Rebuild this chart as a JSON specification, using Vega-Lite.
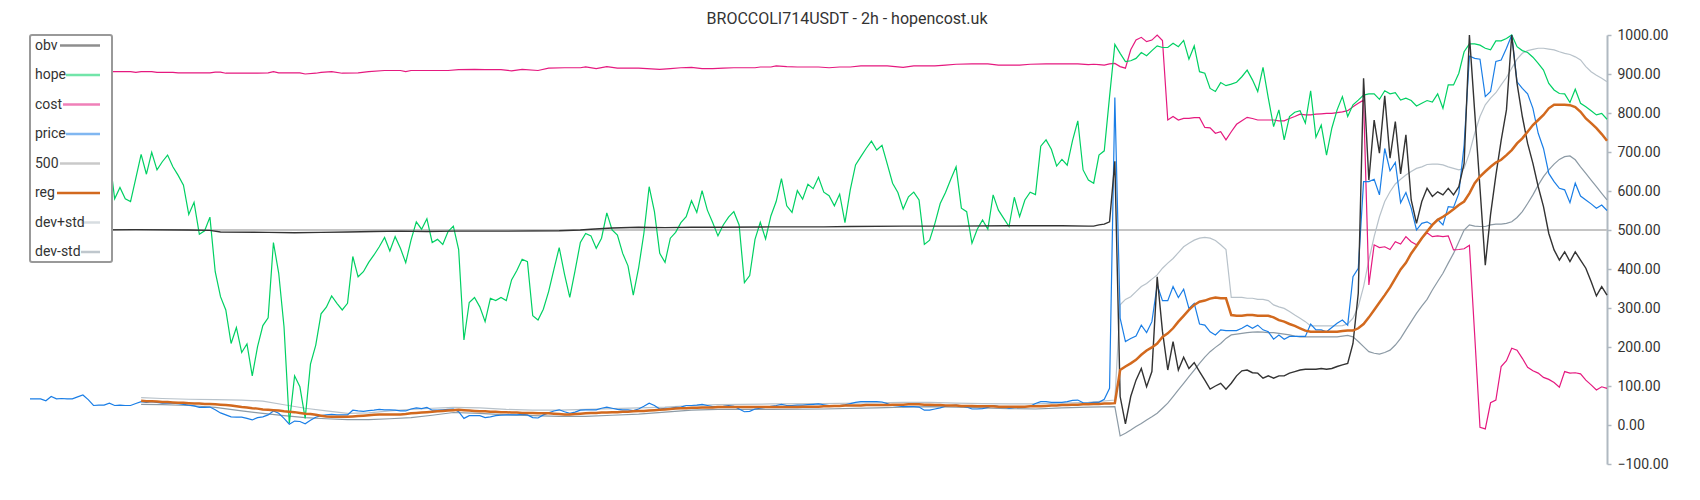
{
"$schema":"https://vega.github.io/schema/vega-lite/v6.json",
"width":1577,"height":429,
"autosize":{"type":"none"},
"padding":{"left":30,"top":35,"right":93,"bottom":36},
"background":"#ffffff",
"config":{"view":{"stroke":null},"font":"Roboto"},
"title":{"text":"BROCCOLI714USDT - 2h - hopencost.uk","font":"Roboto","fontSize":16,"fontWeight":"normal","color":"#333333","anchor":"middle","frame":"bounds","offset":1},
"data":{"values":[
{"t":0,"hope":620,"price":67,"obv":500,"cost":905,"k500":500},
{"t":1,"hope":650,"price":67},
{"t":2,"hope":680,"price":67},
{"t":3,"hope":660,"price":62},
{"t":4,"hope":700,"price":73},
{"t":5,"hope":690,"price":67},
{"t":6,"hope":650,"price":68},
{"t":7,"hope":630,"price":67},
{"t":8,"hope":670,"price":67},
{"t":9,"hope":700,"price":72},
{"t":10,"hope":680,"price":77,"obv":500},
{"t":11,"hope":640,"price":65},
{"t":12,"hope":660,"price":50},
{"t":13,"hope":700,"price":51},
{"t":14,"hope":720,"price":51},
{"t":15,"hope":690,"price":56},
{"t":16,"hope":580,"price":50,"cost":906},
{"t":17,"hope":609,"price":51},
{"t":18,"hope":580,"price":50},
{"t":19,"hope":573,"price":50,"cost":906},
{"t":20,"hope":633,"price":55,"obv":501,"cost":904},
{"t":21,"hope":694,"price":60,"cost":906,"reg":62,"devp":70,"devm":53},
{"t":22,"hope":643,"price":58,"reg":61},
{"t":23,"hope":699,"price":60,"reg":61,"cost":906},
{"t":24,"hope":654,"price":58,"reg":60,"cost":904},
{"t":25,"hope":675,"price":56,"reg":59,"devp":68,"devm":52},
{"t":26,"hope":692,"price":56,"reg":59},
{"t":27,"hope":662,"price":56,"reg":58,"cost":904},
{"t":28,"hope":640,"price":55,"reg":57,"cost":903},
{"t":29,"hope":615,"price":53,"reg":57},
{"t":30,"hope":540,"price":51,"reg":56,"obv":500,"devp":66,"devm":50},
{"t":31,"hope":571,"price":49,"reg":55},
{"t":32,"hope":489,"price":45,"reg":55},
{"t":33,"hope":498,"price":45,"reg":54},
{"t":34,"hope":533,"price":46,"reg":54,"obv":499,"cost":903},
{"t":35,"hope":393,"price":39,"reg":53,"cost":905,"devp":65,"devm":45},
{"t":36,"hope":329,"price":31,"reg":52,"obv":495,"cost":905},
{"t":37,"hope":295,"price":26,"reg":51,"cost":902},
{"t":38,"hope":209,"price":21,"reg":50},
{"t":39,"hope":250,"price":20,"reg":48},
{"t":40,"hope":186,"price":20,"reg":46,"devp":64,"devm":36},
{"t":41,"hope":208,"price":17,"reg":45},
{"t":42,"hope":126,"price":13,"reg":43},
{"t":43,"hope":201,"price":19,"reg":42,"cost":902},
{"t":44,"hope":255,"price":21,"reg":40,"devp":61,"devm":30},
{"t":45,"hope":275,"price":26,"reg":39,"obv":494,"cost":903},
{"t":46,"hope":468,"price":36,"reg":38,"cost":906},
{"t":47,"hope":389,"price":30,"reg":37,"cost":903},
{"t":48,"hope":252,"price":17,"reg":35,"devp":52,"devm":24},
{"t":49,"hope":4,"price":2,"reg":34},
{"t":50,"hope":126,"price":10,"reg":33,"obv":493},
{"t":51,"hope":98,"price":9,"reg":31,"cost":903},
{"t":52,"hope":17,"price":3,"reg":29,"cost":900,"devp":43,"devm":19},
{"t":53,"hope":156,"price":12,"reg":28},
{"t":54,"hope":205,"price":20,"reg":26,"cost":902},
{"t":55,"hope":285,"price":24,"reg":24,"obv":494,"cost":904},
{"t":56,"hope":302,"price":26,"reg":22,"devp":36,"devm":16},
{"t":57,"hope":331,"price":27,"reg":21,"cost":906},
{"t":58,"hope":312,"price":26,"reg":21},
{"t":59,"hope":295,"price":26,"reg":21,"cost":902},
{"t":60,"hope":312,"price":26,"reg":21,"obv":495,"devp":30,"devm":14},
{"t":61,"hope":432,"price":38,"reg":22},
{"t":62,"hope":380,"price":36,"reg":23,"cost":903},
{"t":63,"hope":393,"price":35,"reg":24},
{"t":64,"hope":417,"price":37,"reg":25,"cost":906,"devp":31,"devm":14},
{"t":65,"hope":436,"price":38,"reg":26,"obv":496},
{"t":66,"hope":457,"price":40,"reg":27},
{"t":67,"hope":481,"price":39,"reg":27,"cost":909},
{"t":68,"hope":446,"price":39,"reg":27,"devp":36,"devm":16},
{"t":69,"hope":483,"price":38,"reg":27},
{"t":70,"hope":453,"price":36,"reg":27,"obv":497,"cost":909},
{"t":71,"hope":416,"price":36,"reg":28,"cost":906},
{"t":72,"hope":474,"price":41,"reg":30,"cost":909,"devp":40,"devm":19},
{"t":73,"hope":521,"price":44,"reg":31},
{"t":74,"hope":502,"price":42,"reg":32},
{"t":75,"hope":529,"price":45,"reg":33,"obv":496},
{"t":76,"hope":468,"price":38,"reg":34,"devp":43,"devm":25},
{"t":77,"hope":476,"price":38,"reg":35},
{"t":78,"hope":463,"price":39,"reg":36},
{"t":79,"hope":496,"price":40,"reg":37,"cost":909},
{"t":80,"hope":510,"price":41,"reg":38,"obv":497,"devp":45,"devm":32},
{"t":81,"hope":450,"price":34,"reg":39,"cost":911},
{"t":82,"hope":218,"price":17,"reg":38},
{"t":83,"hope":314,"price":24,"reg":37},
{"t":84,"hope":327,"price":24,"reg":36,"cost":912},
{"t":85,"hope":303,"price":24,"reg":35,"devp":44,"devm":30},
{"t":86,"hope":265,"price":19,"reg":35,"cost":911},
{"t":87,"hope":325,"price":21,"reg":34},
{"t":88,"hope":319,"price":24,"reg":34},
{"t":89,"hope":327,"price":25,"reg":33,"cost":911},
{"t":90,"hope":319,"price":26,"reg":33,"obv":497,"devp":40,"devm":26},
{"t":91,"hope":372,"price":26,"reg":32,"cost":908},
{"t":92,"hope":396,"price":26,"reg":32},
{"t":93,"hope":425,"price":27,"reg":31,"cost":912},
{"t":94,"hope":419,"price":26,"reg":31},
{"t":95,"hope":280,"price":19,"reg":31,"devp":38,"devm":24},
{"t":96,"hope":269,"price":18,"reg":30,"cost":909},
{"t":97,"hope":297,"price":26,"reg":30},
{"t":98,"hope":342,"price":31,"reg":30,"cost":915},
{"t":99,"hope":399,"price":36,"reg":29},
{"t":100,"hope":455,"price":39,"reg":28,"obv":498,"devp":38,"devm":22},
{"t":101,"hope":387,"price":34,"reg":27,"cost":916},
{"t":102,"hope":327,"price":30,"reg":27},
{"t":103,"hope":396,"price":33,"reg":28},
{"t":104,"hope":468,"price":38,"reg":29,"obv":500,"cost":916},
{"t":105,"hope":491,"price":39,"reg":30,"cost":918,"devp":40,"devm":22},
{"t":106,"hope":485,"price":39,"reg":31,"obv":502},
{"t":107,"hope":453,"price":39,"reg":31,"cost":914},
{"t":108,"hope":479,"price":43,"reg":32},
{"t":109,"hope":544,"price":46,"reg":32,"cost":919},
{"t":110,"hope":500,"price":43,"reg":33,"obv":505,"cost":917,"devp":42,"devm":25},
{"t":111,"hope":487,"price":40,"reg":33,"cost":915},
{"t":112,"hope":440,"price":39,"reg":34},
{"t":113,"hope":408,"price":39,"reg":34},
{"t":114,"hope":333,"price":37,"reg":35},
{"t":115,"hope":402,"price":41,"reg":36,"obv":507,"cost":915,"devp":44,"devm":28},
{"t":116,"hope":491,"price":48,"reg":36},
{"t":117,"hope":611,"price":56,"reg":37},
{"t":118,"hope":547,"price":50,"reg":38},
{"t":119,"hope":440,"price":41,"reg":39,"cost":912},
{"t":120,"hope":417,"price":43,"reg":40,"obv":506,"devp":46,"devm":33},
{"t":121,"hope":479,"price":43,"reg":41,"cost":914},
{"t":122,"hope":494,"price":45,"reg":42},
{"t":123,"hope":519,"price":46,"reg":43,"cost":916},
{"t":124,"hope":534,"price":50,"reg":43},
{"t":125,"hope":575,"price":50,"reg":44,"obv":507,"cost":917,"devp":50,"devm":38},
{"t":126,"hope":545,"price":51,"reg":44},
{"t":127,"hope":601,"price":53,"reg":45,"cost":914},
{"t":128,"hope":551,"price":50,"reg":45},
{"t":129,"hope":519,"price":47,"reg":45,"cost":914},
{"t":130,"hope":485,"price":47,"reg":46,"obv":507,"devp":52,"devm":40},
{"t":131,"hope":513,"price":48,"reg":46,"cost":915},
{"t":132,"hope":533,"price":50,"reg":46},
{"t":133,"hope":547,"price":48,"reg":46,"cost":916},
{"t":134,"hope":513,"price":41,"reg":46},
{"t":135,"hope":365,"price":34,"reg":46},
{"t":136,"hope":383,"price":35,"reg":46},
{"t":137,"hope":476,"price":41,"reg":46,"cost":916},
{"t":138,"hope":520,"price":43,"reg":46,"cost":918},
{"t":139,"hope":477,"price":45,"reg":46},
{"t":140,"hope":536,"price":48,"reg":46,"obv":508,"cost":918,"devp":54,"devm":40},
{"t":141,"hope":573,"price":50,"reg":46,"cost":921},
{"t":142,"hope":632,"price":53,"reg":46},
{"t":143,"hope":562,"price":50,"reg":46,"cost":919},
{"t":144,"hope":545,"price":50,"reg":46},
{"t":145,"hope":601,"price":51,"reg":46,"cost":918},
{"t":146,"hope":579,"price":51,"reg":47},
{"t":147,"hope":617,"price":52,"reg":47},
{"t":148,"hope":606,"price":53,"reg":47},
{"t":149,"hope":635,"price":54,"reg":47,"cost":918},
{"t":150,"hope":597,"price":52,"reg":48,"obv":508,"devp":55,"devm":41},
{"t":151,"hope":588,"price":50,"reg":48,"cost":916},
{"t":152,"hope":562,"price":50,"reg":49},
{"t":153,"hope":592,"price":50,"reg":49,"cost":918},
{"t":154,"hope":519,"price":52,"reg":50},
{"t":155,"hope":603,"price":55,"reg":50,"obv":509,"cost":918},
{"t":156,"hope":667,"price":58,"reg":50},
{"t":157,"hope":688,"price":60,"reg":50,"cost":921},
{"t":158,"hope":709,"price":60,"reg":51},
{"t":159,"hope":728,"price":60,"reg":51},
{"t":160,"hope":705,"price":60,"reg":51,"devp":57,"devm":44},
{"t":161,"hope":717,"price":59,"reg":51},
{"t":162,"hope":669,"price":55,"reg":51,"cost":921},
{"t":163,"hope":620,"price":50,"reg":52},
{"t":164,"hope":596,"price":49,"reg":52},
{"t":165,"hope":554,"price":47,"reg":52,"obv":510,"cost":917,"devp":58,"devm":46},
{"t":166,"hope":585,"price":47,"reg":53},
{"t":167,"hope":597,"price":47,"reg":53,"cost":921},
{"t":168,"hope":577,"price":46,"reg":53},
{"t":169,"hope":463,"price":38,"reg":52},
{"t":170,"hope":474,"price":38,"reg":52,"devp":58,"devm":47},
{"t":171,"hope":517,"price":41,"reg":51,"cost":921},
{"t":172,"hope":568,"price":44,"reg":51},
{"t":173,"hope":596,"price":48,"reg":50,"cost":923},
{"t":174,"hope":630,"price":50,"reg":50},
{"t":175,"hope":662,"price":51,"reg":50,"obv":510,"cost":925,"devp":56,"devm":46},
{"t":176,"hope":556,"price":49,"reg":49},
{"t":177,"hope":547,"price":46,"reg":49},
{"t":178,"hope":466,"price":41,"reg":49,"cost":926},
{"t":179,"hope":502,"price":41,"reg":48},
{"t":180,"hope":526,"price":42,"reg":48,"devp":55,"devm":44},
{"t":181,"hope":502,"price":45,"reg":48,"cost":926},
{"t":182,"hope":590,"price":50,"reg":48},
{"t":183,"hope":551,"price":48,"reg":47,"cost":923},
{"t":184,"hope":530,"price":47,"reg":47},
{"t":185,"hope":509,"price":43,"reg":47,"obv":511,"devp":54,"devm":42},
{"t":186,"hope":584,"price":45,"reg":47},
{"t":187,"hope":534,"price":45,"reg":47,"cost":923},
{"t":188,"hope":577,"price":47,"reg":47},
{"t":189,"hope":597,"price":48,"reg":48,"cost":925},
{"t":190,"hope":591,"price":55,"reg":48,"devp":54,"devm":41},
{"t":191,"hope":715,"price":60,"reg":48},
{"t":192,"hope":731,"price":60,"reg":49,"cost":926},
{"t":193,"hope":707,"price":58,"reg":50},
{"t":194,"hope":664,"price":58,"reg":50},
{"t":195,"hope":681,"price":58,"reg":51,"obv":511,"devp":56,"devm":44},
{"t":196,"hope":666,"price":60,"reg":51},
{"t":197,"hope":729,"price":63,"reg":52},
{"t":198,"hope":780,"price":64,"reg":52,"cost":926},
{"t":199,"hope":654,"price":57,"reg":53},
{"t":200,"hope":628,"price":56,"reg":53,"obv":510,"cost":924,"devp":58,"devm":46},
{"t":201,"hope":620,"price":58,"reg":54,"obv":510,"cost":925},
{"t":202,"hope":692,"price":58,"reg":54,"obv":513,"cost":924},
{"t":203,"hope":703,"price":66,"reg":55,"obv":515,"cost":923},
{"t":204,"hope":842,"price":94,"reg":55,"obv":521,"cost":926},
{"t":205,"hope":976,"price":840,"reg":56,"obv":676,"cost":927,"devp":64,"devm":47},
{"t":206,"hope":953,"price":274,"reg":141,"obv":73,"cost":919,"devp":308,"devm":-28},
{"t":207,"hope":932,"price":214,"reg":150,"obv":3,"cost":915,"devp":322,"devm":-21},
{"t":208,"hope":934,"price":222,"reg":158,"obv":73,"cost":962,"devp":329,"devm":-13},
{"t":209,"hope":940,"price":228,"reg":167,"obv":115,"cost":987,"devp":342,"devm":-4},
{"t":210,"hope":955,"price":256,"reg":180,"obv":145,"cost":994,"devp":355,"devm":4},
{"t":211,"hope":947,"price":237,"reg":191,"obv":98,"cost":983,"devp":363,"devm":13},
{"t":212,"hope":960,"price":265,"reg":199,"obv":137,"cost":987,"devp":374,"devm":21},
{"t":213,"hope":972,"price":359,"reg":209,"obv":380,"cost":1000,"devp":385,"devm":30},
{"t":214,"hope":968,"price":319,"reg":226,"obv":240,"cost":986,"devp":402,"devm":43},
{"t":215,"hope":968,"price":319,"reg":235,"obv":141,"cost":782,"devp":415,"devm":56},
{"t":216,"hope":979,"price":355,"reg":248,"obv":214,"cost":791,"devp":427,"devm":73},
{"t":217,"hope":970,"price":327,"reg":265,"obv":141,"cost":782,"devp":442,"devm":90},
{"t":218,"hope":986,"price":348,"reg":280,"obv":174,"cost":786,"devp":457,"devm":107},
{"t":219,"hope":938,"price":299,"reg":295,"obv":145,"cost":786,"devp":466,"devm":124},
{"t":220,"hope":972,"price":312,"reg":308,"obv":160,"cost":788,"devp":474,"devm":141},
{"t":221,"hope":906,"price":259,"reg":316,"obv":137,"cost":788,"devp":479,"devm":158},
{"t":222,"hope":902,"price":256,"reg":319,"obv":115,"cost":763,"devp":481,"devm":174},
{"t":223,"hope":863,"price":239,"reg":324,"obv":92,"cost":762,"devp":479,"devm":188},
{"t":224,"hope":855,"price":231,"reg":327,"obv":100,"cost":748,"devp":473,"devm":199},
{"t":225,"hope":878,"price":244,"reg":325,"obv":107,"cost":752,"devp":462,"devm":209},
{"t":226,"hope":870,"price":242,"reg":325,"obv":92,"cost":731,"devp":450,"devm":222},
{"t":227,"hope":874,"price":242,"reg":282,"obv":107,"cost":752,"devp":327,"devm":231},
{"t":228,"hope":879,"price":242,"reg":280,"obv":126,"cost":771,"devp":327,"devm":233},
{"t":229,"hope":893,"price":248,"reg":280,"obv":139,"cost":780,"devp":327,"devm":235},
{"t":230,"hope":910,"price":256,"reg":282,"obv":141,"cost":789,"devp":325,"devm":237},
{"t":231,"hope":885,"price":248,"reg":282,"obv":134,"cost":786,"devp":325,"devm":238},
{"t":232,"hope":855,"price":256,"reg":280,"obv":133,"cost":782,"devp":322,"devm":239},
{"t":233,"hope":917,"price":244,"reg":280,"obv":120,"cost":782,"devp":322,"devm":238},
{"t":234,"hope":838,"price":239,"reg":280,"obv":126,"cost":782,"devp":319,"devm":237},
{"t":235,"hope":765,"price":220,"reg":276,"obv":120,"cost":782,"devp":308,"devm":237},
{"t":236,"hope":808,"price":231,"reg":269,"obv":126,"cost":780,"devp":303,"devm":235},
{"t":237,"hope":731,"price":220,"reg":265,"obv":126,"cost":780,"devp":299,"devm":233},
{"t":238,"hope":791,"price":227,"reg":259,"obv":133,"cost":786,"devp":291,"devm":231},
{"t":239,"hope":802,"price":227,"reg":254,"obv":137,"cost":791,"devp":282,"devm":228},
{"t":240,"hope":806,"price":227,"reg":248,"obv":141,"cost":797,"devp":274,"devm":226},
{"t":241,"hope":774,"price":227,"reg":242,"obv":143,"cost":795,"devp":265,"devm":226},
{"t":242,"hope":857,"price":259,"reg":239,"obv":143,"cost":795,"devp":254,"devm":226},
{"t":243,"hope":738,"price":244,"reg":239,"obv":143,"cost":797,"devp":254,"devm":226},
{"t":244,"hope":769,"price":244,"reg":239,"obv":145,"cost":798,"devp":254,"devm":226},
{"t":245,"hope":692,"price":239,"reg":239,"obv":143,"cost":799,"devp":254,"devm":226},
{"t":246,"hope":761,"price":250,"reg":239,"obv":145,"cost":799,"devp":254,"devm":226},
{"t":247,"hope":808,"price":261,"reg":239,"obv":150,"cost":801,"devp":254,"devm":226},
{"t":248,"hope":842,"price":269,"reg":241,"obv":154,"cost":803,"devp":255,"devm":228},
{"t":249,"hope":791,"price":256,"reg":242,"obv":158,"cost":806,"devp":259,"devm":230},
{"t":250,"hope":821,"price":380,"reg":242,"obv":209,"cost":816,"devp":274,"devm":226},
{"t":251,"hope":833,"price":402,"reg":248,"obv":338,"cost":825,"devp":304,"devm":214},
{"t":252,"hope":846,"price":624,"reg":259,"obv":889,"cost":833,"devp":355,"devm":201},
{"t":253,"hope":849,"price":624,"reg":276,"obv":628,"cost":359,"devp":423,"devm":188},
{"t":254,"hope":849,"price":630,"reg":295,"obv":782,"cost":462,"devp":483,"devm":184},
{"t":255,"hope":835,"price":590,"reg":314,"obv":697,"cost":455,"devp":534,"devm":182},
{"t":256,"hope":857,"price":709,"reg":333,"obv":844,"cost":457,"devp":573,"devm":186},
{"t":257,"hope":849,"price":652,"reg":353,"obv":684,"cost":450,"devp":598,"devm":192},
{"t":258,"hope":852,"price":673,"reg":376,"obv":778,"cost":470,"devp":618,"devm":205},
{"t":259,"hope":833,"price":570,"reg":399,"obv":644,"cost":464,"devp":630,"devm":222},
{"t":260,"hope":838,"price":596,"reg":416,"obv":744,"cost":483,"devp":641,"devm":244},
{"t":261,"hope":832,"price":556,"reg":440,"obv":577,"cost":470,"devp":650,"devm":265},
{"t":262,"hope":818,"price":500,"reg":459,"obv":517,"cost":462,"devp":658,"devm":286},
{"t":263,"hope":825,"price":517,"reg":479,"obv":573,"cost":479,"devp":662,"devm":305},
{"t":264,"hope":832,"price":521,"reg":496,"obv":607,"cost":493,"devp":668,"devm":322},
{"t":265,"hope":828,"price":513,"reg":513,"obv":586,"cost":483,"devp":669,"devm":346},
{"t":266,"hope":849,"price":527,"reg":526,"obv":598,"cost":485,"devp":669,"devm":368},
{"t":267,"hope":812,"price":513,"reg":534,"obv":590,"cost":483,"devp":667,"devm":389},
{"t":268,"hope":872,"price":560,"reg":543,"obv":607,"cost":485,"devp":662,"devm":415},
{"t":269,"hope":872,"price":558,"reg":553,"obv":590,"cost":449,"devp":658,"devm":440},
{"t":270,"hope":902,"price":594,"reg":564,"obv":611,"cost":450,"devp":654,"devm":470},
{"t":271,"hope":957,"price":718,"reg":573,"obv":671,"cost":452,"devp":658,"devm":500},
{"t":272,"hope":977,"price":946,"reg":594,"obv":1000,"cost":461,"devp":697,"devm":513},
{"t":273,"hope":977,"price":940,"reg":620,"obv":803,"cost":230,"devp":748,"devm":510},
{"t":274,"hope":974,"price":938,"reg":637,"obv":607,"cost":-6,"devp":791,"devm":509},
{"t":275,"hope":966,"price":842,"reg":650,"obv":410,"cost":-10,"devp":821,"devm":509},
{"t":276,"hope":962,"price":855,"reg":662,"obv":540,"cost":57,"devp":838,"devm":513},
{"t":277,"hope":985,"price":932,"reg":673,"obv":640,"cost":64,"devp":852,"devm":515},
{"t":278,"hope":985,"price":936,"reg":680,"obv":730,"cost":150,"devp":872,"devm":515},
{"t":279,"hope":991,"price":966,"reg":692,"obv":808,"cost":165,"devp":891,"devm":517},
{"t":280,"hope":1000,"price":1000,"reg":705,"obv":1000,"cost":197,"devp":915,"devm":521},
{"t":281,"hope":970,"price":880,"reg":722,"obv":876,"cost":192,"devp":938,"devm":532},
{"t":282,"hope":960,"price":863,"reg":735,"obv":791,"cost":171,"devp":953,"devm":547},
{"t":283,"hope":955,"price":849,"reg":752,"obv":722,"cost":148,"devp":960,"devm":568},
{"t":284,"hope":943,"price":812,"reg":769,"obv":671,"cost":139,"devp":963,"devm":590},
{"t":285,"hope":927,"price":748,"reg":782,"obv":611,"cost":133,"devp":966,"devm":615},
{"t":286,"hope":910,"price":709,"reg":795,"obv":560,"cost":122,"devp":966,"devm":637},
{"t":287,"hope":876,"price":645,"reg":812,"obv":491,"cost":117,"devp":964,"devm":654},
{"t":288,"hope":859,"price":624,"reg":821,"obv":449,"cost":109,"devp":962,"devm":669},
{"t":289,"hope":850,"price":607,"reg":821,"obv":423,"cost":97,"devp":957,"devm":681},
{"t":290,"hope":849,"price":603,"reg":821,"obv":444,"cost":137,"devp":953,"devm":688},
{"t":291,"hope":827,"price":570,"reg":820,"obv":419,"cost":133,"devp":950,"devm":690},
{"t":292,"hope":861,"price":620,"reg":815,"obv":444,"cost":134,"devp":944,"devm":680},
{"t":293,"hope":825,"price":587,"reg":803,"obv":423,"cost":131,"devp":936,"devm":662},
{"t":294,"hope":816,"price":577,"reg":786,"obv":402,"cost":115,"devp":919,"devm":645},
{"t":295,"hope":806,"price":567,"reg":774,"obv":368,"cost":103,"devp":906,"devm":628},
{"t":296,"hope":795,"price":556,"reg":761,"obv":331,"cost":90,"devp":897,"devm":611},
{"t":297,"hope":799,"price":564,"reg":746,"obv":355,"cost":98,"devp":889,"devm":594},
{"t":298,"hope":784,"price":550,"reg":729,"obv":333,"cost":94,"devp":880,"devm":577,"k500":500}
]},
"transform":[
{"fold":["k500","devm","devp","cost","hope","price","obv","reg"],"as":["s","v"]},
{"filter":"isValid(datum.v)"}
],
"encoding":{
"x":{"field":"t","type":"quantitative","scale":{"domain":[0,298],"nice":false,"zero":false},"axis":null},
"y":{"field":"v","type":"quantitative","scale":{"domain":[-100,1000],"nice":false,"zero":false},
"axis":{"orient":"right","title":null,"grid":false,"values":[-100,0,100,200,300,400,500,600,700,800,900,1000],"format":".2f","domainColor":"#b0b9c1","domainWidth":2,"tickColor":"#b0b9c1","tickWidth":1.5,"tickSize":4,"labelFont":"Roboto","labelFontSize":14,"labelColor":"#333333","labelPadding":6,"labelFlush":false,"labelOverlap":false}},
"color":{"field":"s","type":"nominal",
"scale":{"domain":["obv","hope","cost","price","k500","reg","devp","devm"],"range":["#333333","#00d063","#e5197f","#1a7ee6","#c4c4c4","#d2691e","#b8c2ca","#8c9aa5"]},
"legend":{"title":null,"orient":"top-left","offset":0,"symbolType":"stroke","symbolSize":144,"symbolStrokeWidth":2.5,"symbolOffset":59.5,"labelOffset":-72.5,"labelFont":"Roboto","labelFontSize":14,"labelColor":"#333333","rowPadding":14.5,"padding":3,"strokeColor":"#999999","fillColor":"#ffffff","cornerRadius":2,"labelLimit":200,
"labelExpr":"datum.label == 'k500' ? '500' : datum.label == 'devp' ? 'dev+std' : datum.label == 'devm' ? 'dev-std' : datum.label",
"encode":{
"legend":{"update":{"strokeWidth":{"value":2}}},
"symbols":{"update":{
"shape":{"signal":"datum.value == 'obv' ? 'M-6.67,0H0M0.65,0H0.65' : datum.value == 'hope' ? 'M-5.67,0H0M0.65,0H0.65' : datum.value == 'cost' ? 'M-6.17,0H0M0.65,0H0.65' : datum.value == 'price' ? 'M-5.67,0H0M0.65,0H0.65' : datum.value == 'k500' ? 'M-6.67,0H0M0.65,0H0.65' : datum.value == 'reg' ? 'M-7.17,0H0M0.65,0H0.65' : 'M-3.17,0H0M0.65,0H0.65'"},
"opacity":{"signal":"datum.value == 'reg' ? 1 : datum.value == 'k500' ? 0.9 : 0.55"}}}}}}
},
"layer":[
{"transform":[{"filter":"datum.s == 'k500'"}],"mark":{"type":"line","strokeWidth":2}},
{"transform":[{"filter":"datum.s == 'devm'"}],"mark":{"type":"line","strokeWidth":1.2}},
{"transform":[{"filter":"datum.s == 'devp'"}],"mark":{"type":"line","strokeWidth":1.2}},
{"transform":[{"filter":"datum.s == 'cost'"}],"mark":{"type":"line","strokeWidth":1.2}},
{"transform":[{"filter":"datum.s == 'hope'"}],"mark":{"type":"line","strokeWidth":1.2}},
{"transform":[{"filter":"datum.s == 'price'"}],"mark":{"type":"line","strokeWidth":1.2}},
{"transform":[{"filter":"datum.s == 'obv'"}],"mark":{"type":"line","strokeWidth":1.4}},
{"transform":[{"filter":"datum.s == 'reg'"}],"mark":{"type":"line","strokeWidth":2.5}}
]
}
